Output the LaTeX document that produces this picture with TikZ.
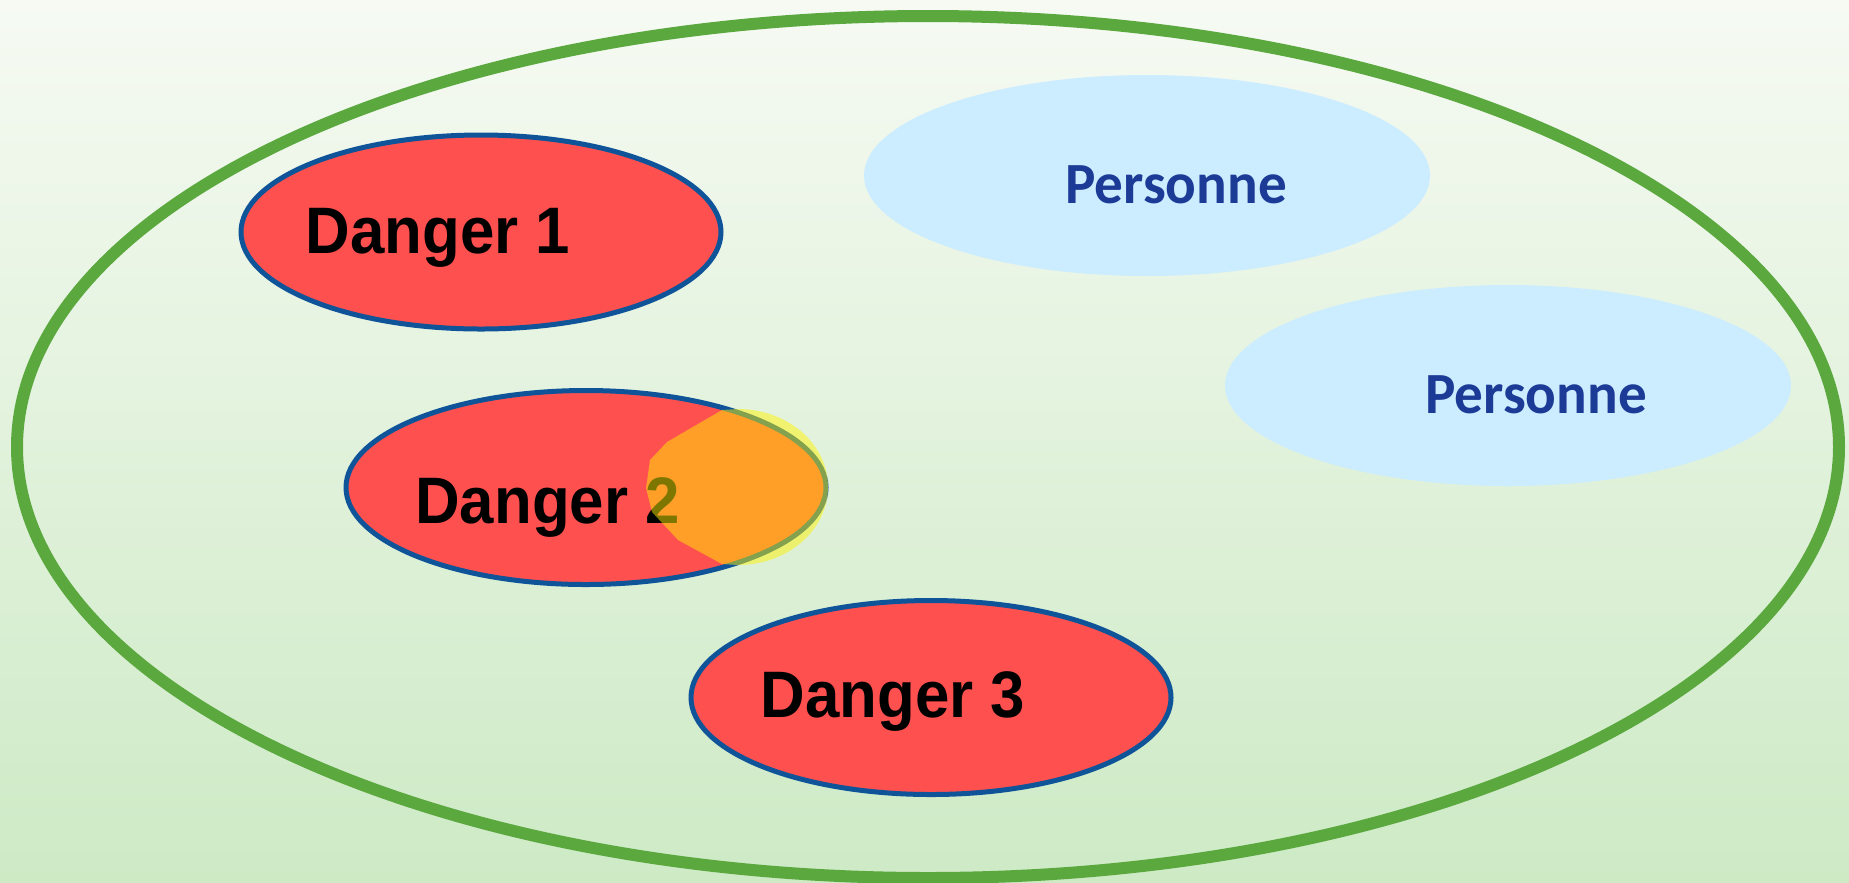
\documentclass[tikz,border=0pt]{standalone}
\usepackage{fontspec}
\usetikzlibrary{calc}
\usetikzlibrary{shapes.geometric}

\newfontfamily\dangerfont{Liberation Sans}[FakeStretch=0.94]
\newfontfamily\personfont{Carlito}[FakeStretch=0.98]

\definecolor{bgtop}{HTML}{F6FAF3}
\definecolor{bgbottom}{HTML}{CDEAC5}
\definecolor{fieldgreen}{HTML}{5AA83E}
\definecolor{dangerred}{HTML}{FF5050}
\definecolor{borderblue}{HTML}{0F5499}
\definecolor{personblue}{HTML}{CCECFF}
\definecolor{personink}{HTML}{1C3B96}

\tikzset{
  zone/.style={ellipse, inner sep=0pt, minimum width=48mm, minimum height=19.4mm,
    fill=dangerred, draw=borderblue, line width=0.5mm},
  person/.style={ellipse, inner sep=0pt, minimum width=56.6mm, minimum height=20.1mm,
    fill=personblue},
  dangerlabel/.style={anchor=base, inner sep=0pt,
    font=\dangerfont\bfseries\fontsize{18.7pt}{22pt}\selectfont},
  personlabel/.style={anchor=base, inner sep=0pt, text=personink,
    font=\personfont\bfseries\fontsize{16.6pt}{20pt}\selectfont}
}

\begin{document}
\begin{tikzpicture}[x=0.1mm,y=-0.1mm]
\useasboundingbox (0,0) rectangle (1849,882);
\shade[top color=bgtop, bottom color=bgbottom] (0,0) rectangle (1849,882);

\node[ellipse, inner sep=0pt, draw=fieldgreen, line width=1.2mm,
  minimum width=182.2mm, minimum height=86.2mm] (field) at (928,447) {};

\node[person] (p1) at (1147,175.5) {};
\node[personlabel] at ($(p1) + (29,27.5)$) {Personne};
\node[person] (p2) at (1508,385.5) {};
\node[personlabel] at ($(p2) + (28,27.5)$) {Personne};

\node[zone] (d1) at (481,232) {};
\node[dangerlabel] at ($(d1) + (-43,21)$) {Danger 1};
\node[zone] (d2) at (586,487.5) {};
\node[dangerlabel] at ($(d2) + (-38.5,35.5)$) {Danger 2};
\node[zone] (d3) at (931,697.5) {};
\node[dangerlabel] at ($(d3) + (-38,19.5)$) {Danger 3};

% overlap on danger 2
\fill[yellow, opacity=0.49] (738,409) -- (722,410) -- (667,442) -- (650,460)
  -- (646,488) -- (652,512) -- (678,540) -- (722,564) -- (738,565)
  arc[start angle=-90, end angle=90, x radius=9mm, y radius=7.8mm];
\end{tikzpicture}
\end{document}
